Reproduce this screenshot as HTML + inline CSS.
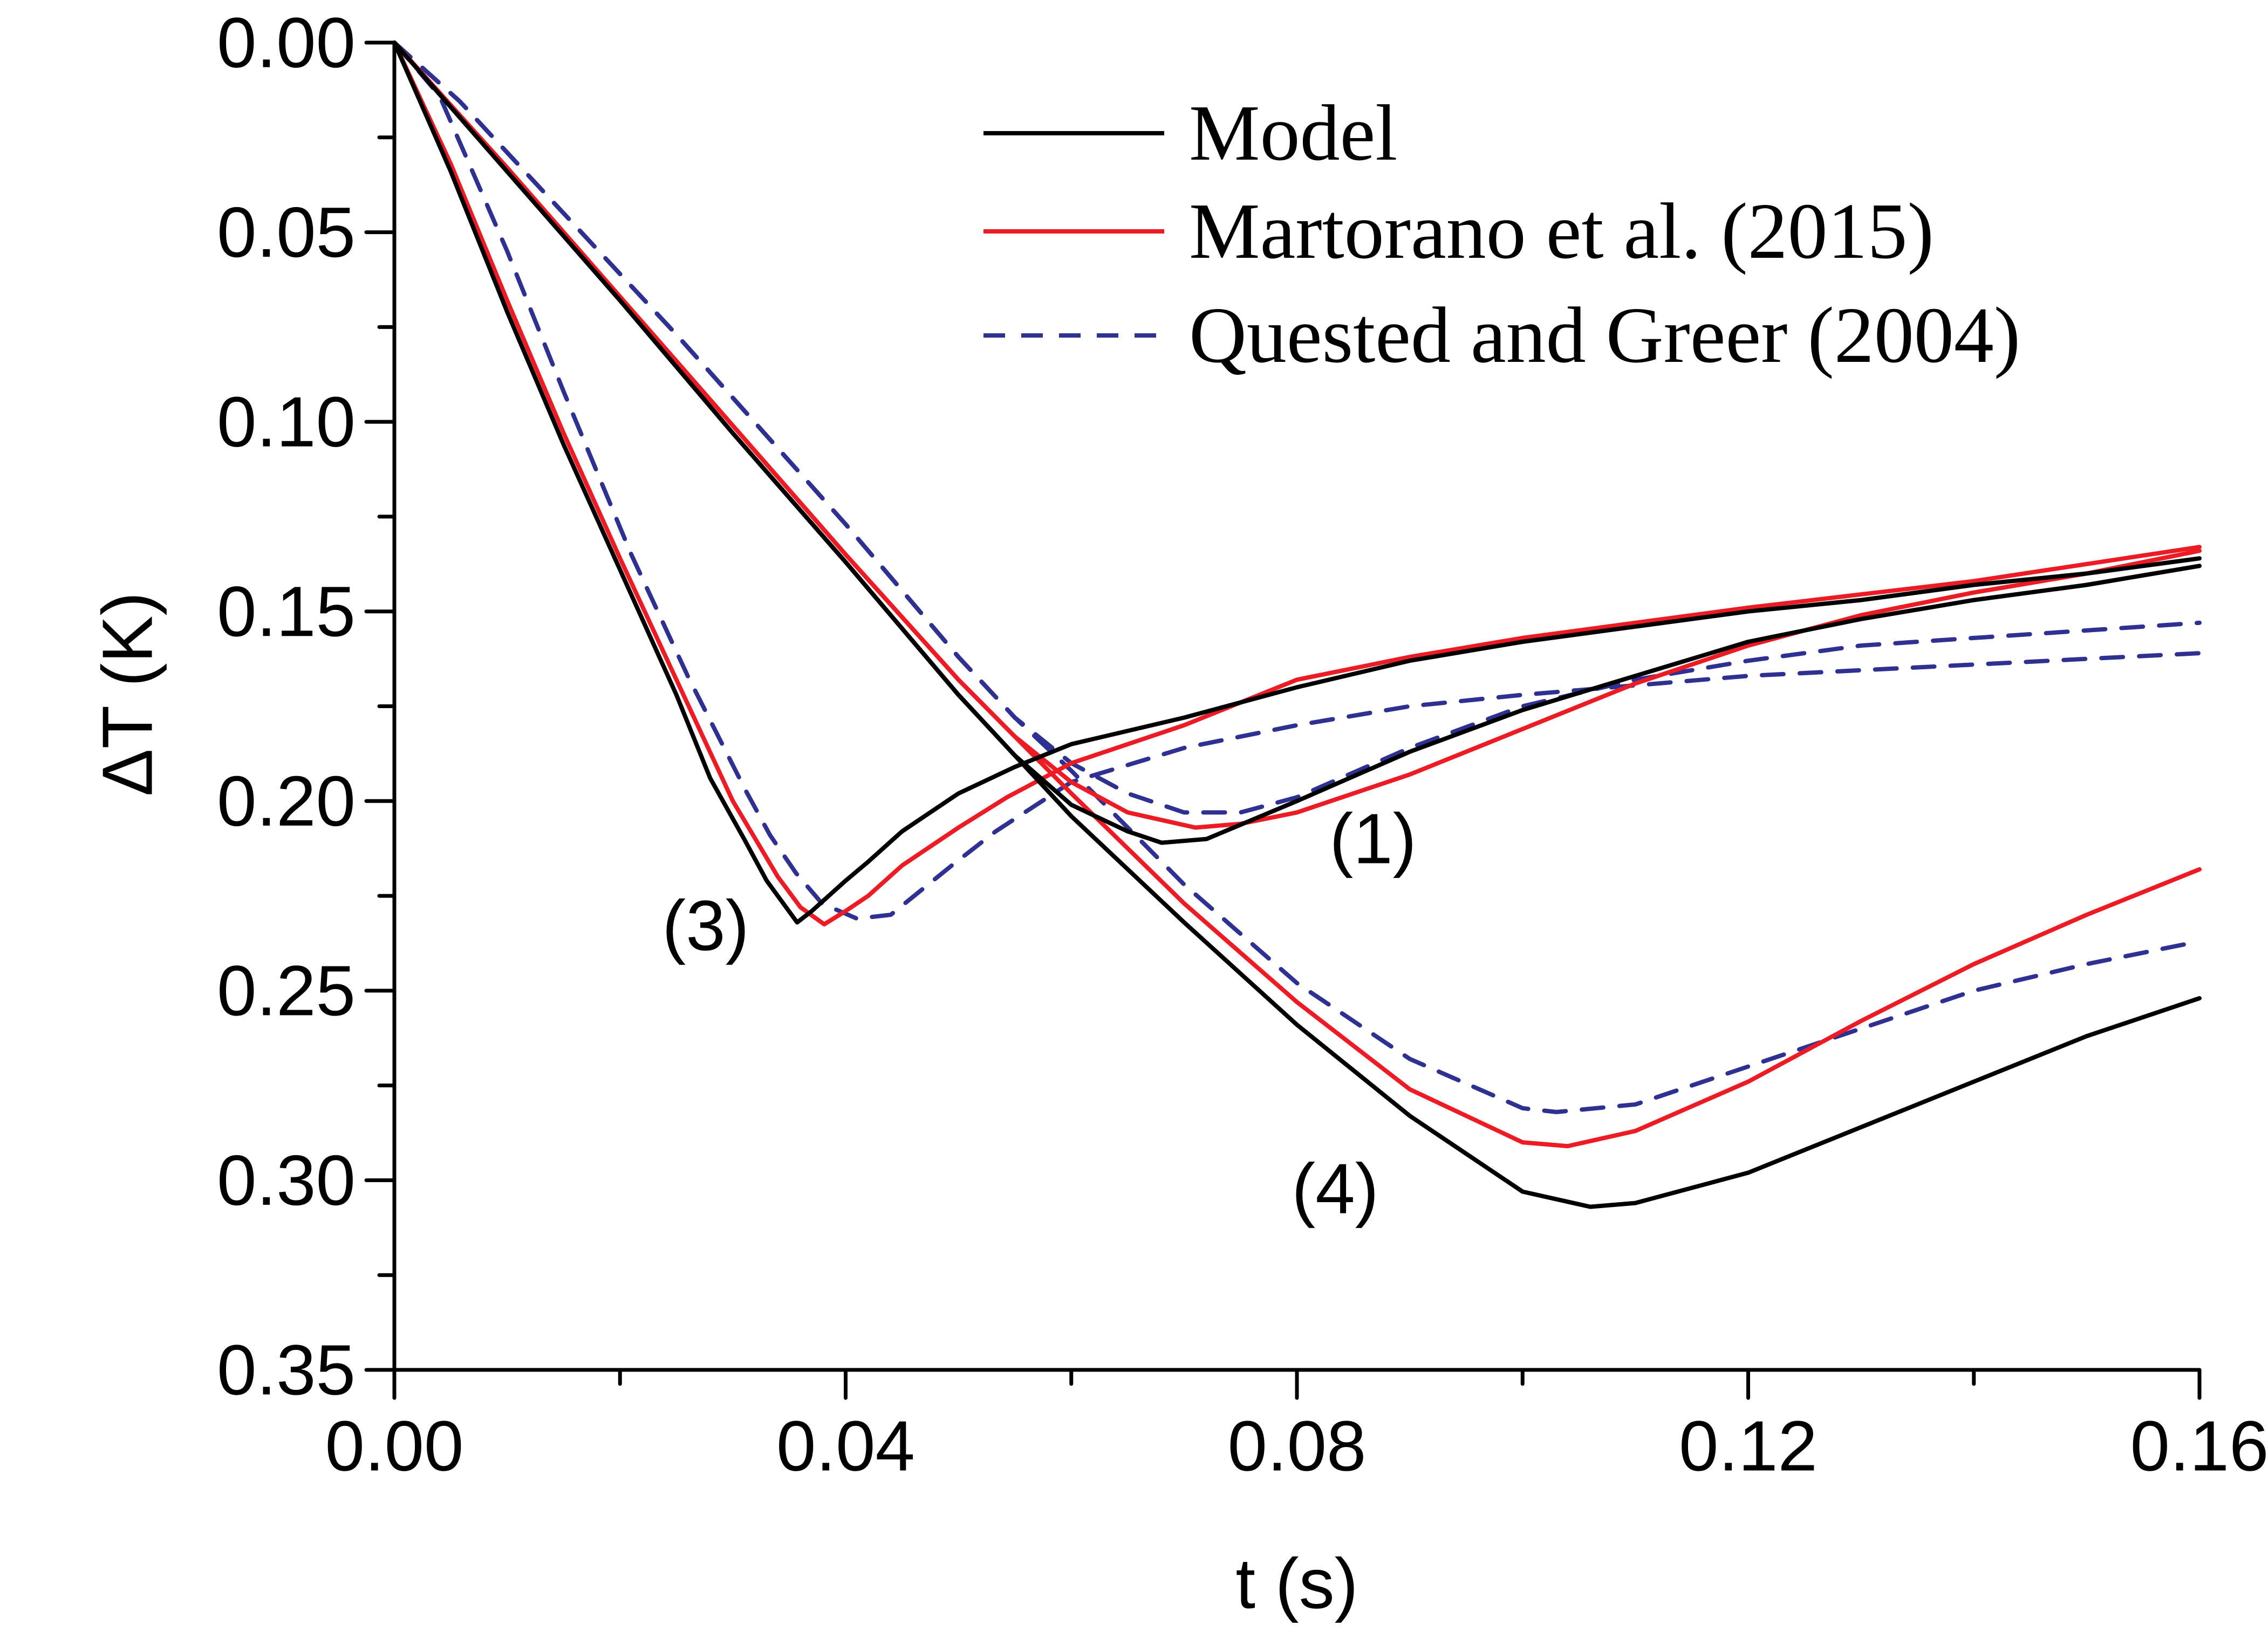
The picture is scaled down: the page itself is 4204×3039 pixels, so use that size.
<!DOCTYPE html>
<html><head><meta charset="utf-8">
<style>html,body{margin:0;padding:0;background:#fff}svg{display:block}</style></head>
<body>
<svg id="chart" width="4204" height="3039" viewBox="0 0 4204 3039" xmlns="http://www.w3.org/2000/svg" font-family="Liberation Sans, sans-serif"></svg>
<script>
const xTicks=[0,0.04,0.08,0.12,0.16];
const xTickLabels=["0.00","0.04","0.08","0.12","0.16"];
const yTicks=[0,0.05,0.10,0.15,0.20,0.25,0.30,0.35];
const yTickLabels=["0.00","0.05","0.10","0.15","0.20","0.25","0.30","0.35"];
// curve (3)
const m3t=[0,0.005,0.01,0.015,0.02,0.025,0.028,0.031,0.033,0.0357,0.037,0.04,0.042,0.045,0.05,0.055,0.06,0.07,0.08,0.09,0.10,0.11,0.12,0.13,0.14,0.15,0.16];
const m3v=[0,0.034,0.071,0.106,0.139,0.172,0.194,0.210,0.221,0.232,0.229,0.221,0.216,0.208,0.198,0.191,0.185,0.178,0.170,0.163,0.158,0.154,0.150,0.147,0.143,0.140,0.136];
const r3t=[0,0.005,0.01,0.015,0.02,0.025,0.03,0.034,0.036,0.0381,0.04,0.042,0.045,0.05,0.0543,0.06,0.07,0.08,0.09,0.10,0.12,0.14,0.16];
const r3v=[0,0.032,0.068,0.103,0.136,0.168,0.200,0.220,0.228,0.2325,0.229,0.225,0.217,0.207,0.199,0.190,0.180,0.168,0.162,0.157,0.149,0.142,0.133];
const q3t=[0,0.004,0.01,0.015,0.021,0.026,0.0311,0.0333,0.0356,0.0379,0.041,0.044,0.0494,0.0533,0.06,0.07,0.08,0.09,0.10,0.12,0.14,0.16];
const q3v=[0,0.014,0.055,0.092,0.135,0.167,0.197,0.209,0.219,0.227,0.231,0.230,0.217,0.208,0.195,0.186,0.180,0.175,0.172,0.167,0.164,0.161];
// curve (1)
const m1t=[0,0.01,0.02,0.03,0.04,0.05,0.055,0.06,0.065,0.068,0.072,0.08,0.09,0.10,0.11,0.12,0.13,0.14,0.15,0.16];
const m1v=[0,0.034,0.068,0.103,0.137,0.172,0.188,0.201,0.208,0.211,0.210,0.200,0.187,0.176,0.167,0.158,0.152,0.147,0.143,0.138];
const r1t=[0,0.01,0.02,0.03,0.04,0.05,0.055,0.06,0.065,0.071,0.075,0.08,0.09,0.10,0.11,0.12,0.13,0.14,0.15,0.16];
const r1v=[0,0.033,0.067,0.101,0.135,0.168,0.183,0.195,0.203,0.207,0.206,0.203,0.193,0.181,0.169,0.159,0.151,0.145,0.140,0.134];
const q1t=[0,0.0058,0.01,0.025,0.04,0.05,0.055,0.06,0.065,0.07,0.075,0.08,0.09,0.10,0.11,0.12,0.13,0.14,0.15,0.16];
const q1v=[0,0.0155,0.029,0.077,0.127,0.162,0.178,0.190,0.198,0.203,0.203,0.199,0.186,0.175,0.168,0.163,0.159,0.157,0.155,0.153];
// curve (4)
const m4t=[0,0.01,0.02,0.03,0.04,0.05,0.055,0.06,0.07,0.08,0.09,0.10,0.106,0.11,0.12,0.13,0.14,0.15,0.16];
const m4v=[0,0.034,0.068,0.103,0.137,0.172,0.188,0.204,0.232,0.259,0.283,0.303,0.307,0.306,0.298,0.286,0.274,0.262,0.252];
const r4t=[0,0.01,0.02,0.03,0.04,0.05,0.055,0.06,0.07,0.08,0.09,0.10,0.104,0.11,0.12,0.13,0.14,0.15,0.16];
const r4v=[0,0.033,0.067,0.101,0.135,0.168,0.183,0.198,0.227,0.253,0.276,0.290,0.291,0.287,0.274,0.258,0.243,0.230,0.218];
const q4t=[0,0.0058,0.01,0.025,0.04,0.05,0.055,0.06,0.07,0.08,0.09,0.10,0.103,0.11,0.12,0.13,0.14,0.15,0.16];
const q4v=[0,0.0155,0.029,0.077,0.127,0.162,0.178,0.192,0.222,0.248,0.268,0.281,0.282,0.280,0.270,0.260,0.250,0.243,0.237];

const X0=731,X1=4077,Y0=79,Y1=2540;
const sx=t=>X0+(t-0)/(0.16)*(X1-X0);
const sy=v=>Y0+v/0.35*(Y1-Y0);
const svg=document.getElementById('chart');
const NS='http://www.w3.org/2000/svg';
function mk(tag,attrs,parent){const e=document.createElementNS(NS,tag);for(const k in attrs)e.setAttribute(k,attrs[k]);(parent||svg).appendChild(e);return e;}

let ax=mk('path',{d:`M${X0},${Y0} L${X0},${Y1} L${X1},${Y1}`,fill:'none',stroke:'#000','stroke-width':7});


for(let i=0;i<=14;i++){const v=i*0.025;const len=(i%2===0)?52:28;
 const t=mk('line',{x1:X0-len,x2:X0,y1:sy(v),y2:sy(v),stroke:'#000','stroke-width':7,'stroke-linecap':'round'});
 
 }
for(let i=0;i<=8;i++){const v=i*0.02;const len=(i%2===0)?52:26;
 const t=mk('line',{x1:sx(v),x2:sx(v),y1:Y1,y2:Y1+len,stroke:'#000','stroke-width':7,'stroke-linecap':'round'});
 
 }
yTicks.forEach((v,i)=>{const t=mk('text',{x:X0-72,y:sy(v),'text-anchor':'end','dominant-baseline':'central','font-size':132});
 t.textContent=yTickLabels[i];
 
 });
xTicks.forEach((v,i)=>{const t=mk('text',{x:sx(v),y:2681,'text-anchor':'middle','dominant-baseline':'central','font-size':132});
 t.textContent=xTickLabels[i];
 
 });
let xt=mk('text',{x:2404,y:2936,'text-anchor':'middle','dominant-baseline':'central','font-size':132});
xt.textContent='t (s)';


let yt=mk('text',{x:236,y:1287,'text-anchor':'middle','dominant-baseline':'central','font-size':132,transform:'rotate(-90 236 1287)'});
yt.textContent='ΔT (K)';



const styles={m:{stroke:'#000',dash:null},r:{stroke:'#ed1c24',dash:null},q:{stroke:'#2e3192',dash:'40 30'}};
function series(ts,vs,st,name){const d=ts.map((t,i)=>(i?'L':'M')+sx(t).toFixed(1)+','+sy(vs[i]).toFixed(1)).join(' ');
 const a={d:d,fill:'none',stroke:st.stroke,'stroke-width':8,'stroke-linejoin':'round','stroke-linecap':'round'};
 if(st.dash)a['stroke-dasharray']=st.dash;
 const p=mk('path',a);
 
 }
series(q3t,q3v,styles.q,'quested-curve-3');series(q1t,q1v,styles.q,'quested-curve-1');series(q4t,q4v,styles.q,'quested-curve-4');
series(r3t,r3v,styles.r,'martorano-curve-3');series(r1t,r1v,styles.r,'martorano-curve-1');series(r4t,r4v,styles.r,'martorano-curve-4');
series(m3t,m3v,styles.m,'model-curve-3');series(m1t,m1v,styles.m,'model-curve-1');series(m4t,m4v,styles.m,'model-curve-4');

[['(1)',2545,1555],['(3)',1308,1716],['(4)',2475,2204]].forEach(c=>{const t=mk('text',{x:c[1],y:c[2],'text-anchor':'middle','dominant-baseline':'central','font-size':132});
 t.textContent=c[0];
 
 });

const legNames=['Model','Martorano et al. (2015)','Quested and Greer (2004)'];
const legKeys=['m','r','q'];const legY=[247,429,622];
legNames.forEach((n,i)=>{const st=styles[legKeys[i]];
 const g=mk('g',{});
 
 
 const a={x1:1823,x2:2158,y1:legY[i],y2:legY[i],stroke:st.stroke,'stroke-width':8};
 if(st.dash)a['stroke-dasharray']=st.dash;
 mk('line',a,g);
 const t=mk('text',{x:2204,y:legY[i],'dominant-baseline':'central','font-size':148,'font-family':'Liberation Serif, serif'},g);
 t.textContent=n;});
</script>
</body></html>
